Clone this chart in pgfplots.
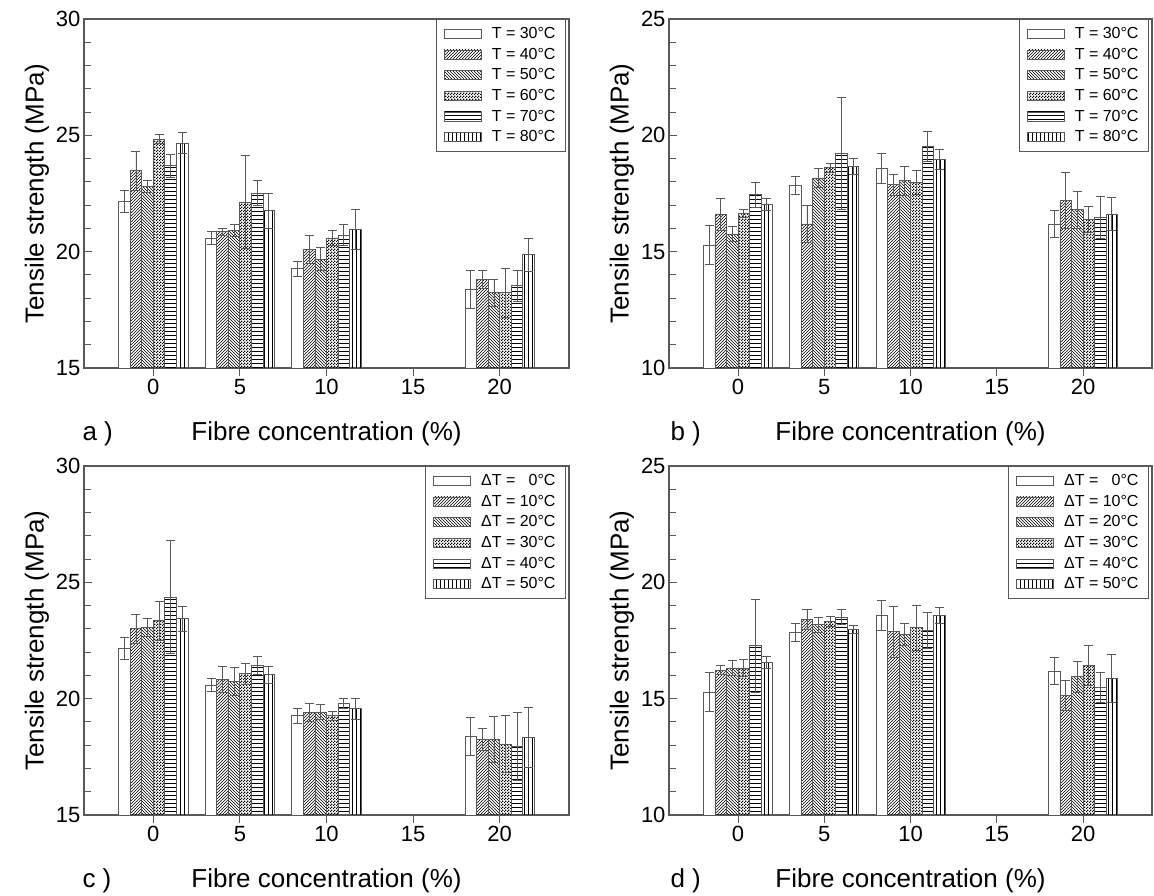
\documentclass[border=0pt]{standalone}
\usepackage{fontspec}
\setmainfont{Liberation Sans}
\usepackage{pgfplots}
\usepackage{pgfplotstable}
\pgfplotsset{compat=1.18}
\usetikzlibrary{patterns}

\definecolor{fr}{gray}{0.35}

% hatch patterns, roughly as in the scanned figure
\pgfdeclarepatternformonly{ne}{\pgfqpoint{-1pt}{-1pt}}{\pgfqpoint{4pt}{4pt}}{\pgfqpoint{3pt}{3pt}}{%
  \pgfsetlinewidth{0.6pt}\pgfpathmoveto{\pgfqpoint{0pt}{0pt}}\pgfpathlineto{\pgfqpoint{3.1pt}{3.1pt}}\pgfusepath{stroke}}
\pgfdeclarepatternformonly{nw}{\pgfqpoint{-1pt}{-1pt}}{\pgfqpoint{4pt}{4pt}}{\pgfqpoint{3pt}{3pt}}{%
  \pgfsetlinewidth{0.6pt}\pgfpathmoveto{\pgfqpoint{0pt}{3pt}}\pgfpathlineto{\pgfqpoint{3.1pt}{-0.1pt}}\pgfusepath{stroke}}
\pgfdeclarepatternformonly{hl}{\pgfqpoint{-1pt}{-1pt}}{\pgfqpoint{100pt}{1pt}}{\pgfqpoint{100pt}{4pt}}{%
  \pgfsetlinewidth{0.6pt}\pgfpathmoveto{\pgfqpoint{0pt}{0.5pt}}\pgfpathlineto{\pgfqpoint{100pt}{0.5pt}}\pgfusepath{stroke}}
\pgfdeclarepatternformonly{vl}{\pgfqpoint{-1pt}{-1pt}}{\pgfqpoint{1pt}{100pt}}{\pgfqpoint{4pt}{100pt}}{%
  \pgfsetlinewidth{0.6pt}\pgfpathmoveto{\pgfqpoint{0.5pt}{0pt}}\pgfpathlineto{\pgfqpoint{0.5pt}{100pt}}\pgfusepath{stroke}}
\pgfdeclarepatternformonly{checker}{\pgfqpoint{0pt}{0pt}}{\pgfqpoint{3pt}{3pt}}{\pgfqpoint{3pt}{3pt}}{%
  \pgfpathrectangle{\pgfqpoint{0pt}{0pt}}{\pgfqpoint{1.5pt}{1.5pt}}%
  \pgfpathrectangle{\pgfqpoint{1.5pt}{1.5pt}}{\pgfqpoint{1.5pt}{1.5pt}}\pgfusepath{fill}}

% x = fibre concentration, v = strength (MPa), e = error
\pgfplotstableread{
x  v1    e1   v2    e2   v3    e3   v4    e4   v5    e5   v6    e6
0  22.17 0.47 23.48 0.83 22.81 0.25 24.84 0.20 23.70 0.50 24.67 0.46
5  20.58 0.28 20.86 0.15 20.93 0.26 22.12 2.00 22.51 0.54 21.76 0.75
10 19.27 0.33 20.11 0.60 19.68 0.50 20.59 0.34 20.72 0.43 20.96 0.87
20 18.36 0.82 18.80 0.40 18.23 0.57 18.23 1.05 18.53 0.67 19.87 0.72
}\dataA
\pgfplotstableread{
x  v1    e1   v2    e2   v3    e3   v4    e4   v5    e5   v6    e6
0  15.29 0.84 16.59 0.69 15.76 0.31 16.66 0.17 17.44 0.54 17.05 0.26
5  17.86 0.39 16.19 0.79 18.17 0.39 18.60 0.21 19.21 2.40 18.67 0.34
10 18.57 0.65 17.88 0.46 18.05 0.62 17.98 0.53 19.53 0.63 18.98 0.43
20 16.18 0.58 17.19 1.20 16.80 0.79 16.37 0.56 16.47 0.89 16.62 0.71
}\dataB
\pgfplotstableread{
x  v1    e1   v2    e2   v3    e3   v4    e4   v5    e5   v6    e6
0  22.17 0.47 23.00 0.61 23.07 0.39 23.36 0.84 24.36 2.43 23.43 0.54
5  20.58 0.28 20.83 0.57 20.74 0.62 21.07 0.46 21.43 0.39 21.03 0.37
10 19.27 0.33 19.40 0.39 19.43 0.31 19.26 0.20 19.81 0.21 19.57 0.46
20 18.36 0.82 18.25 0.47 18.25 0.97 18.05 1.24 17.93 1.46 18.33 1.29
}\dataC
\pgfplotstableread{
x  v1    e1   v2    e2   v3    e3   v4    e4   v5    e5   v6    e6
0  15.29 0.84 16.22 0.19 16.32 0.33 16.32 0.38 17.27 1.99 16.54 0.26
5  17.86 0.39 18.40 0.43 18.18 0.33 18.33 0.21 18.51 0.32 17.97 0.17
10 18.57 0.65 17.87 1.10 17.75 0.48 18.05 0.96 17.94 0.76 18.58 0.36
20 16.18 0.58 15.15 0.64 15.94 0.68 16.44 0.86 15.48 0.63 15.87 1.04
}\dataD

\pgfplotsset{
  box legend/.style={legend image code/.code={\draw[##1] (0pt,-4.5pt) rectangle (37pt,4.5pt);}},
  eb/.style={error bars/.cd, y dir=both, y explicit,
    error bar style={fr, line width=0.8pt},
    error mark options={rotate=90, mark size=4.5pt, line width=0.8pt, fr}},
  s1/.style={draw=fr, line width=0.8pt, fill=white, eb},
  s2/.style={draw=fr, line width=0.8pt, pattern=ne, eb},
  s3/.style={draw=fr, line width=0.8pt, pattern=nw, eb},
  s4/.style={draw=fr, line width=0.8pt, pattern=checker, eb},
  s5/.style={draw=fr, line width=0.8pt, pattern=hl, eb},
  s6/.style={draw=fr, line width=0.8pt, pattern=vl, eb},
  panel/.style={
    scale only axis, width=485pt, height=349pt,
    xmin=-4, xmax=24, xtick={0,5,10,15,20},
    tick align=inside, tick pos=left,
    minor y tick num=4,
    major tick length=8pt, minor tick length=7pt,
    axis line style={fr, line width=1.1pt},
    every tick/.style={fr, line width=1pt},
    ybar=0pt, bar width=0.667,
    every axis plot post/.append style={box legend},
    ticklabel style={font=\fontsize{22}{26}\selectfont},
    /pgf/number format/assume math mode=true,
    label style={font=\fontsize{26}{31}\selectfont},
    xlabel={Fibre concentration (\%)},
    ylabel={Tensile strength (MPa)},
    xlabel style={at={(axis description cs:0.5,0)}, anchor=base, yshift=-73pt},
    legend style={at={(rel axis cs:1,1)}, anchor=north east, xshift=-3pt,
      draw=fr, line width=0.9pt, font=\fontsize{16}{19}\selectfont,
      row sep=4pt, column sep=8pt, inner xsep=8pt, inner ysep=6pt},
    legend cell align=left,
  },
}

\begin{document}
\begin{tikzpicture}
\useasboundingbox (0pt,0pt) rectangle (1154pt,896pt);

% a) constant temperature, 15-30 MPa
\begin{axis}[panel, name=A, at={(84pt,528pt)}, anchor=south west,
  ymin=15, ymax=30, ytick={15,20,25,30}]
  \addplot[s1] table[x=x, y=v1, y error=e1] {\dataA};
  \addplot[s2] table[x=x, y=v2, y error=e2] {\dataA};
  \addplot[s3] table[x=x, y=v3, y error=e3] {\dataA};
  \addplot[s4] table[x=x, y=v4, y error=e4] {\dataA};
  \addplot[s5] table[x=x, y=v5, y error=e5] {\dataA};
  \addplot[s6] table[x=x, y=v6, y error=e6] {\dataA};
  \legend{T = 30°C, T = 40°C, T = 50°C, T = 60°C, T = 70°C, T = 80°C}
\end{axis}
\node[anchor=base west, font=\fontsize{26}{31}\selectfont] at ([xshift=-5pt,yshift=-73pt]A.south west) {a )};

% b)
\begin{axis}[panel, name=B, at={(669pt,528pt)}, anchor=south west, width=483pt,
  ymin=10, ymax=25, ytick={10,15,20,25}]
  \addplot[s1] table[x=x, y=v1, y error=e1] {\dataB};
  \addplot[s2] table[x=x, y=v2, y error=e2] {\dataB};
  \addplot[s3] table[x=x, y=v3, y error=e3] {\dataB};
  \addplot[s4] table[x=x, y=v4, y error=e4] {\dataB};
  \addplot[s5] table[x=x, y=v5, y error=e5] {\dataB};
  \addplot[s6] table[x=x, y=v6, y error=e6] {\dataB};
  \legend{T = 30°C, T = 40°C, T = 50°C, T = 60°C, T = 70°C, T = 80°C}
\end{axis}
\node[anchor=base west, font=\fontsize{26}{31}\selectfont] at ([xshift=-2pt,yshift=-73pt]B.south west) {b )};

% c) temperature difference
\begin{axis}[panel, name=C, at={(84pt,81pt)}, anchor=south west,
  ymin=15, ymax=30, ytick={15,20,25,30}]
  \addplot[s1] table[x=x, y=v1, y error=e1] {\dataC};
  \addplot[s2] table[x=x, y=v2, y error=e2] {\dataC};
  \addplot[s3] table[x=x, y=v3, y error=e3] {\dataC};
  \addplot[s4] table[x=x, y=v4, y error=e4] {\dataC};
  \addplot[s5] table[x=x, y=v5, y error=e5] {\dataC};
  \addplot[s6] table[x=x, y=v6, y error=e6] {\dataC};
  \legend{ΔT = \hphantom{1}0°C, ΔT = 10°C, ΔT = 20°C, ΔT = 30°C, ΔT = 40°C, ΔT = 50°C}
\end{axis}
\node[anchor=base west, font=\fontsize{26}{31}\selectfont] at ([xshift=-5pt,yshift=-73pt]C.south west) {c )};

% d)
\begin{axis}[panel, name=D, at={(669pt,81pt)}, anchor=south west, width=483pt,
  ymin=10, ymax=25, ytick={10,15,20,25}]
  \addplot[s1] table[x=x, y=v1, y error=e1] {\dataD};
  \addplot[s2] table[x=x, y=v2, y error=e2] {\dataD};
  \addplot[s3] table[x=x, y=v3, y error=e3] {\dataD};
  \addplot[s4] table[x=x, y=v4, y error=e4] {\dataD};
  \addplot[s5] table[x=x, y=v5, y error=e5] {\dataD};
  \addplot[s6] table[x=x, y=v6, y error=e6] {\dataD};
  \legend{ΔT = \hphantom{1}0°C, ΔT = 10°C, ΔT = 20°C, ΔT = 30°C, ΔT = 40°C, ΔT = 50°C}
\end{axis}
\node[anchor=base west, font=\fontsize{26}{31}\selectfont] at ([xshift=-2pt,yshift=-73pt]D.south west) {d )};
\end{tikzpicture}
\end{document}
